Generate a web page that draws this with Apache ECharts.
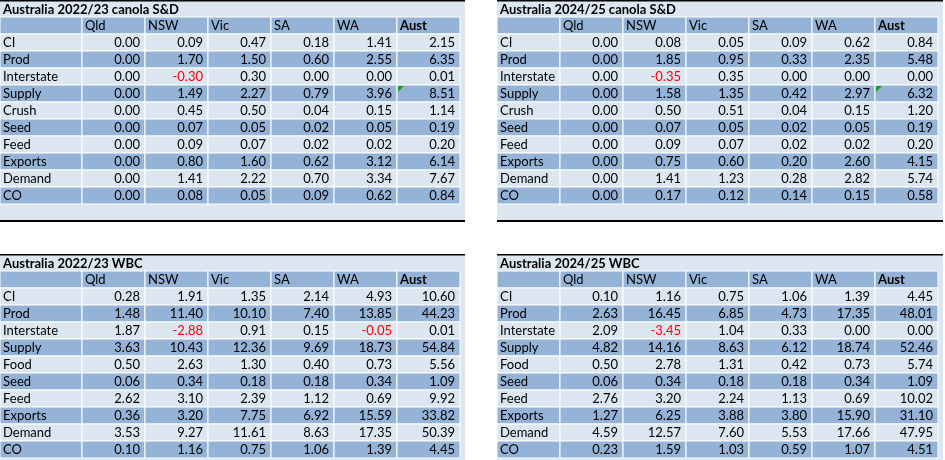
<!DOCTYPE html>
<html><head><meta charset="utf-8">
<script src="https://cdn.jsdelivr.net/npm/echarts@6/dist/echarts.min.js"></script>
<style>html,body{margin:0;padding:0;background:#fff}#c{width:945px;height:460px}</style>
</head><body><div id="c"></div>
<script>
const regions = ['Qld', 'NSW', 'Vic', 'SA', 'WA', 'Aust']
const canolaRows = ['CI', 'Prod', 'Interstate', 'Supply', 'Crush', 'Seed', 'Feed', 'Exports', 'Demand', 'CO']
const wbcRows = ['CI', 'Prod', 'Interstate', 'Supply', 'Food', 'Seed', 'Feed', 'Exports', 'Demand', 'CO']

const canola2223 = [
  [0, 0.09, 0.47, 0.18, 1.41, 2.15],
  [0, 1.70, 1.50, 0.60, 2.55, 6.35],
  [0, -0.30, 0.30, 0, 0, 0.01],
  [0, 1.49, 2.27, 0.79, 3.96, 8.51],
  [0, 0.45, 0.50, 0.04, 0.15, 1.14],
  [0, 0.07, 0.05, 0.02, 0.05, 0.19],
  [0, 0.09, 0.07, 0.02, 0.02, 0.20],
  [0, 0.80, 1.60, 0.62, 3.12, 6.14],
  [0, 1.41, 2.22, 0.70, 3.34, 7.67],
  [0, 0.08, 0.05, 0.09, 0.62, 0.84],
]
const canola2425 = [
  [0, 0.08, 0.05, 0.09, 0.62, 0.84],
  [0, 1.85, 0.95, 0.33, 2.35, 5.48],
  [0, -0.35, 0.35, 0, 0, 0],
  [0, 1.58, 1.35, 0.42, 2.97, 6.32],
  [0, 0.50, 0.51, 0.04, 0.15, 1.20],
  [0, 0.07, 0.05, 0.02, 0.05, 0.19],
  [0, 0.09, 0.07, 0.02, 0.02, 0.20],
  [0, 0.75, 0.60, 0.20, 2.60, 4.15],
  [0, 1.41, 1.23, 0.28, 2.82, 5.74],
  [0, 0.17, 0.12, 0.14, 0.15, 0.58],
]
const wbc2223 = [
  [0.28, 1.91, 1.35, 2.14, 4.93, 10.60],
  [1.48, 11.40, 10.10, 7.40, 13.85, 44.23],
  [1.87, -2.88, 0.91, 0.15, -0.05, 0.01],
  [3.63, 10.43, 12.36, 9.69, 18.73, 54.84],
  [0.50, 2.63, 1.30, 0.40, 0.73, 5.56],
  [0.06, 0.34, 0.18, 0.18, 0.34, 1.09],
  [2.62, 3.10, 2.39, 1.12, 0.69, 9.92],
  [0.36, 3.20, 7.75, 6.92, 15.59, 33.82],
  [3.53, 9.27, 11.61, 8.63, 17.35, 50.39],
  [0.10, 1.16, 0.75, 1.06, 1.39, 4.45],
]
const wbc2425 = [
  [0.10, 1.16, 0.75, 1.06, 1.39, 4.45],
  [2.63, 16.45, 6.85, 4.73, 17.35, 48.01],
  [2.09, -3.45, 1.04, 0.33, 0, 0],
  [4.82, 14.16, 8.63, 6.12, 18.74, 52.46],
  [0.50, 2.78, 1.31, 0.42, 0.73, 5.74],
  [0.06, 0.34, 0.18, 0.18, 0.34, 1.09],
  [2.76, 3.20, 2.24, 1.13, 0.69, 10.02],
  [1.27, 6.25, 3.88, 3.80, 15.90, 31.10],
  [4.59, 12.57, 7.60, 5.53, 17.66, 47.95],
  [0.23, 1.59, 1.03, 0.59, 1.07, 4.51],
]

const tables = [
  { title: 'Australia 2022/23 canola S&D', rows: canolaRows, values: canola2223, x0: 0, y0: 0, labelW: 82, width: 465, mark: true },
  { title: 'Australia 2024/25 canola S&D', rows: canolaRows, values: canola2425, x0: 497, y0: 0, labelW: 63, width: 446, mark: true },
  { title: 'Australia 2022/23 WBC', rows: wbcRows, values: wbc2223, x0: 0, y0: 254, labelW: 82, width: 465 },
  { title: 'Australia 2024/25 WBC', rows: wbcRows, values: wbc2425, x0: 497, y0: 254, labelW: 63, width: 446 },
]

const ROW_H = 17, COL_W = 63
const LIGHT = '#dce6f1', DARK = '#95b3d7'
const FONT = 'Lato, "Open Sans", sans-serif'

function makeSeries(t) {
  // first item is the frame (title row, blank footer, rules); then one item per cell [col, row]
  const data = [[-2, -2]]
  for (let r = -1; r < t.rows.length; r++)
    for (let c = -1; c < regions.length; c++) data.push([c, r])
  return {
    type: 'custom',
    data,
    renderItem(params, api) {
      const c = api.value(0), r = api.value(1)
      const o = api.coord([t.x0, t.y0])
      if (c === -2) {
        const bottom = api.coord([t.x0, t.y0 + 2 * ROW_H + t.rows.length * ROW_H + 16])
        return { type: 'group', children: [
          { type: 'rect', z2: 0, shape: { x: o[0], y: o[1], width: t.width, height: bottom[1] - o[1] }, style: { fill: LIGHT } },
          { type: 'rect', shape: { x: o[0], y: o[1], width: t.width, height: 1.5 }, style: { fill: '#000' } },
          { type: 'rect', shape: { x: o[0], y: bottom[1], width: t.width, height: 2 }, style: { fill: '#000' } },
          { type: 'text', x: o[0] + 3, y: o[1] + 9.5, style: { text: t.title, font: 'bold 13px ' + FONT, fill: '#000', verticalAlign: 'middle' } },
        ] }
      }
      const x = o[0] + (c < 0 ? 0 : t.labelW + c * COL_W)
      const w = c < 0 ? t.labelW : COL_W
      const y = o[1] + ROW_H * (r + 2)
      const fill = (r === -1 || r % 2 === 1) ? DARK : LIGHT
      let text = '', align = 'left', color = '#000', tx = x + 3
      if (r === -1) text = c < 0 ? '' : regions[c]
      else if (c < 0) text = t.rows[r]
      else {
        const v = t.values[r][c]
        text = v.toFixed(2)
        align = 'right'; tx = x + w - 5
        if (v < 0) color = '#ff0000'
      }
      const kids = [
        { type: 'rect', shape: { x, y, width: w, height: ROW_H }, style: { fill, stroke: '#fff', lineWidth: 1 } },
        { type: 'text', x: tx, y: y + ROW_H / 2 + 0.5, style: { text, font: (r === -1 && c === 5 ? 'bold ' : '') + '13px ' + FONT, fill: color, align, verticalAlign: 'middle' } },
      ]
      if (t.mark && r === 3 && c === 5)
        kids.push({ type: 'polygon', shape: { points: [[x + 1, y + 1], [x + 7, y + 1], [x + 1, y + 7]] }, style: { fill: '#1f9a2f' } })
      return { type: 'group', children: kids }
    },
  }
}

const chart = echarts.init(document.getElementById('c'), null, { renderer: 'canvas' })
chart.setOption({
  animation: false,
  grid: { left: 0, right: 0, top: 0, bottom: 0 },
  xAxis: { type: 'value', min: 0, max: 945, show: false },
  yAxis: { type: 'value', min: 0, max: 460, inverse: true, show: false },
  series: tables.map(makeSeries),
})
</script></body></html>
